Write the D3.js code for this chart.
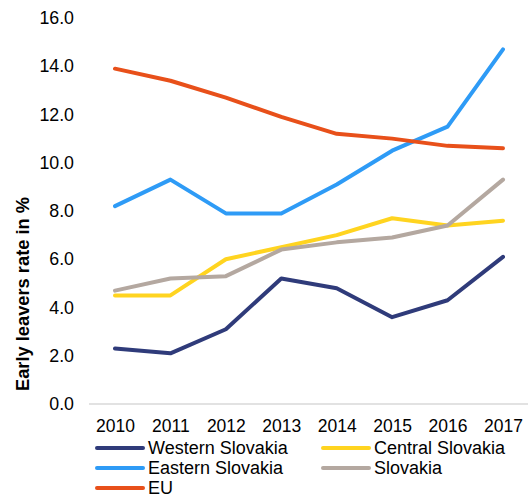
<!DOCTYPE html>
<html>
<head>
<meta charset="utf-8">
<script src="https://cdn.jsdelivr.net/npm/d3@7"></script>
<style>
  body { margin: 0; background: #fff; }
  text { font-family: "Liberation Sans", Arial, sans-serif; fill: #000; }
</style>
</head>
<body>
<div id="chart"></div>
<script>
// data
const years = ["2010", "2011", "2012", "2013", "2014", "2015", "2016", "2017"];
const western = [2.3, 2.1, 3.1, 5.2, 4.8, 3.6, 4.3, 6.1];
const central = [4.5, 4.5, 6.0, 6.5, 7.0, 7.7, 7.4, 7.6];
const eastern = [8.2, 9.3, 7.9, 7.9, 9.1, 10.5, 11.5, 14.7];
const slovakia = [4.7, 5.2, 5.3, 6.4, 6.7, 6.9, 7.4, 9.3];
const eu = [13.9, 13.4, 12.7, 11.9, 11.2, 11.0, 10.7, 10.6];
const yTicks = [0, 2, 4, 6, 8, 10, 12, 14, 16];

const series = [
  { name: "Western Slovakia", values: western, color: "#2f3b7a" },
  { name: "Central Slovakia", values: central, color: "#ffd420" },
  { name: "Eastern Slovakia", values: eastern, color: "#2e9bf6" },
  { name: "Slovakia", values: slovakia, color: "#b4a8a0" },
  { name: "EU", values: eu, color: "#e8501a" }
];

const svgWidth = 529;
const svgHeight = 497;

const svg = d3.select("#chart")
  .append("svg")
  .attr("width", svgWidth)
  .attr("height", svgHeight);

const x = d3.scalePoint()
  .domain(years)
  .range([115, 503]);

const y = d3.scaleLinear()
  .domain([0, 16])
  .range([404, 18]);

// y axis labels (no axis line)
const yAxis = svg.append("g")
  .attr("transform", "translate(74,0)")
  .call(d3.axisLeft(y).tickValues(yTicks).tickFormat(d3.format(".1f")).tickSize(0).tickPadding(0));
yAxis.select(".domain").remove();
yAxis.selectAll("text")
  .style("font-size", "17.8px")
  .style("font-family", "'Liberation Sans', Arial, sans-serif")
  .attr("fill", "#000");

// x axis baseline
svg.append("line")
  .attr("x1", 89)
  .attr("x2", 528)
  .attr("y1", y(0))
  .attr("y2", y(0))
  .attr("stroke", "#d9d9d9")
  .attr("stroke-width", 1.5);

const xAxis = svg.append("g")
  .attr("transform", `translate(0,${y(0)})`)
  .call(d3.axisBottom(x).tickSize(0).tickPadding(16));
xAxis.select(".domain").remove();
xAxis.selectAll("text")
  .style("font-size", "17.5px")
  .style("font-family", "'Liberation Sans', Arial, sans-serif")
  .attr("fill", "#000");

// y title
svg.append("text")
  .attr("transform", "rotate(-90)")
  .attr("x", -294)
  .attr("y", 29)
  .attr("text-anchor", "middle")
  .style("font-size", "18.3px")
  .style("font-weight", "bold")
  .text("Early leavers rate in %");

const line = d3.line()
  .x((d, i) => x(years[i]))
  .y(d => y(d));

svg.selectAll(".series")
  .data(series)
  .enter()
  .append("path")
  .attr("class", "series")
  .attr("d", d => line(d.values))
  .attr("fill", "none")
  .attr("stroke", d => d.color)
  .attr("stroke-width", 4)
  .attr("stroke-linejoin", "round")
  .attr("stroke-linecap", "round");

// legend
const legend = svg.append("g");
const legendItems = legend.selectAll("g")
  .data(series)
  .enter()
  .append("g")
  .attr("transform", (d, i) => `translate(${i % 2 === 0 ? 97 : 323},${448 + Math.floor(i / 2) * 20})`);

legendItems.append("line")
  .attr("x1", 0)
  .attr("x2", 46)
  .attr("stroke", d => d.color)
  .attr("stroke-width", 4)
  .attr("stroke-linecap", "round");

legendItems.append("text")
  .attr("x", 51)
  .attr("y", 6)
  .style("font-size", "18px")
  .text(d => d.name);
</script>
</body>
</html>
